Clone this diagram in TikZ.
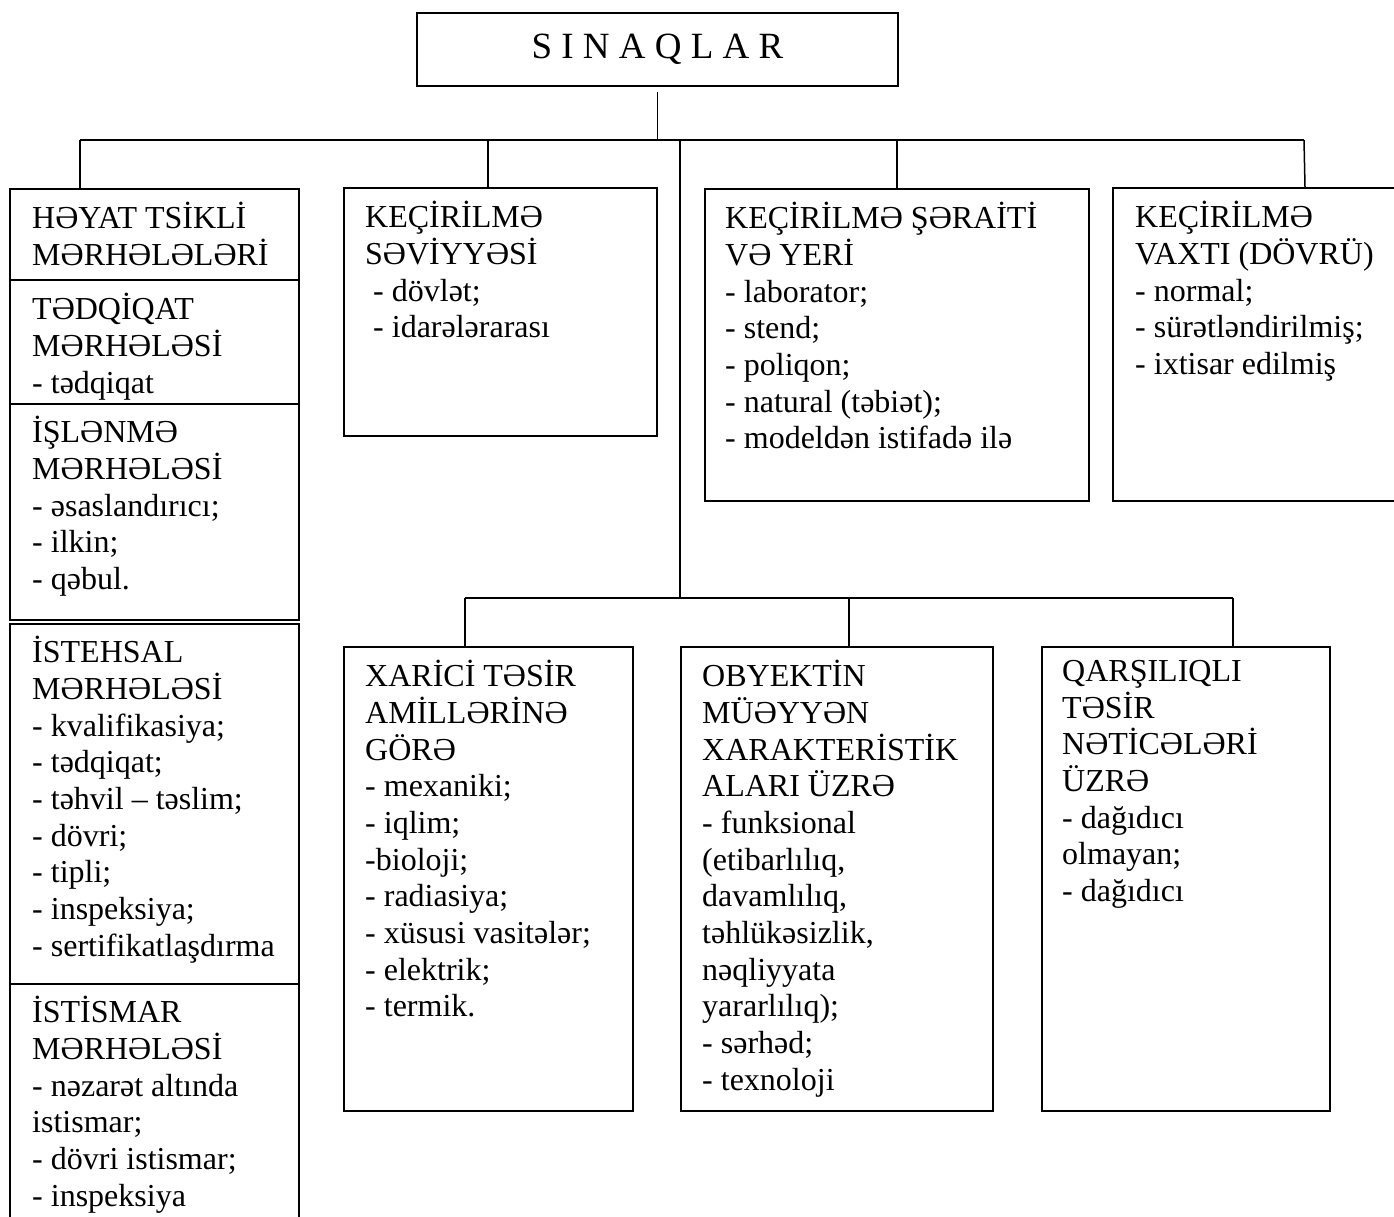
\documentclass[tikz,border=0pt]{standalone}
\usepackage{fontspec}
\setmainfont{Liberation Serif}
\begin{document}
\begin{tikzpicture}[x=1pt, y=-1pt,
        box/.style={rectangle, draw, line width=2pt, anchor=north west, inner sep=0pt},
        txt/.style={anchor=north west, align=left, inner sep=0pt,
            font=\fontsize{32}{36.7}\selectfont, execute at begin node=\strut},
        line/.style={line width=1.5pt}]

        \path[use as bounding box, clip] (0,0) rectangle (1394,1216);

        % Boxes (top)
        \node[box, anchor=center, minimum width=481, minimum height=73,
            font=\fontsize{37}{40}\selectfont] (top) at (657.5,49.5) {S I N A Q L A R};

        % Boxes (life cycle stages)
        \node[box, minimum width=289, minimum height=91] (ph0) at (9,188) {};
        \node[box, minimum width=289, minimum height=124] (ph1) at (9,279) {};
        \node[box, minimum width=289, minimum height=216] (ph2) at (9,403) {};
        \node[box, minimum width=289, minimum height=360] (ph3) at (9,623) {};
        \node[box, minimum width=289, minimum height=260] (ph4) at (9,983) {};

        % Boxes (first row)
        \node[box, minimum width=313, minimum height=248] (lvl) at (343,187) {};
        \node[box, minimum width=384, minimum height=312] (cond) at (704,188) {};
        \node[box, minimum width=384, minimum height=313] (time) at (1112,187) {};

        % Boxes (second row)
        \node[box, minimum width=289, minimum height=464] (ext) at (343,646) {};
        \node[box, minimum width=312, minimum height=464] (obj) at (680,646) {};
        \node[box, minimum width=288, minimum height=464] (mut) at (1041,646) {};

        % Texts
        \node[txt] (ph0t) at ([shift={(23,14)}]ph0.north west) {HƏYAT TSİKLİ\\MƏRHƏLƏLƏRİ};
        \node[txt] (ph1t) at ([shift={(23,14)}]ph1.north west) {TƏDQİQAT\\MƏRHƏLƏSİ\\- tədqiqat};
        \node[txt] (ph2t) at ([shift={(23,13)}]ph2.north west) {İŞLƏNMƏ\\MƏRHƏLƏSİ\\- əsaslandırıcı;\\- ilkin;\\- qəbul.};
        \node[txt] (ph3t) at ([shift={(23,13)}]ph3.north west) {İSTEHSAL\\MƏRHƏLƏSİ\\- kvalifikasiya;\\- tədqiqat;\\- təhvil – təslim;\\- dövri;\\- tipli;\\- inspeksiya;\\- sertifikatlaşdırma};
        \node[txt] (ph4t) at ([shift={(23,13)}]ph4.north west) {İSTİSMAR\\MƏRHƏLƏSİ\\- nəzarət altında\\istismar;\\- dövri istismar;\\- inspeksiya};
        \node[txt] (lvlt) at ([shift={(22,14)}]lvl.north west) {KEÇİRİLMƏ\\SƏVİYYƏSİ\\\hspace{8pt}- dövlət;\\\hspace{8pt}- idarələrarası};
        \node[txt] (condt) at ([shift={(21,14)}]cond.north west) {KEÇİRİLMƏ ŞƏRAİTİ\\VƏ YERİ\\- laborator;\\- stend;\\- poliqon;\\- natural (təbiət);\\- modeldən istifadə ilə};
        \node[txt] (timet) at ([shift={(23,14)}]time.north west) {KEÇİRİLMƏ\\VAXTI (DÖVRÜ)\\- normal;\\- sürətləndirilmiş;\\- ixtisar edilmiş};
        \node[txt] (extt) at ([shift={(22,14)}]ext.north west) {XARİCİ TƏSİR\\AMİLLƏRİNƏ\\GÖRƏ\\- mexaniki;\\- iqlim;\\-bioloji;\\- radiasiya;\\- xüsusi vasitələr;\\- elektrik;\\- termik.};
        \node[txt] (objt) at ([shift={(22,14)}]obj.north west) {OBYEKTİN\\MÜƏYYƏN\\XARAKTERİSTİK\\ALARI ÜZRƏ\\- funksional\\(etibarlılıq,\\davamlılıq,\\təhlükəsizlik,\\nəqliyyata\\yararlılıq);\\- sərhəd;\\- texnoloji};
        \node[txt] (mutt) at ([shift={(21,14)}]mut.north west) {QARŞILIQLI\\TƏSİR\\NƏTİCƏLƏRİ\\ÜZRƏ\\- dağıdıcı\\olmayan;\\- dağıdıcı};

        % Bus points
        \coordinate (hub) at (657.5,140);
        \coordinate (busW) at (80,140);
        \coordinate (busE) at (1304,140);
        \coordinate (dLvl) at (488,140);
        \coordinate (trunk) at (680,140);
        \coordinate (bbW) at (465,598);
        \coordinate (dObj) at (849,598);
        \coordinate (bbE) at (1233,598);

        % Lines (upper level)
        \draw[line, shorten <=5pt] (top.south) -- (hub);
        \draw[line] (busW) -- (busE);
        \draw[line] (busW) -- (busW |- ph0.north);
        \draw[line] (dLvl) -- (dLvl |- lvl.north);
        \draw[line] (busE -| cond.north) -- (cond.north);
        \draw[line] (busE) -- (time.north);

        % Lines (lower level)
        \draw[line] (trunk) -- (trunk |- bbW);
        \draw[line] (bbW) -- (bbE);
        \draw[line] (bbW) -- (bbW |- ext.north);
        \draw[line] (dObj) -- (dObj |- obj.north);
        \draw[line] (bbE) -- (bbE |- mut.north);
    \end{tikzpicture}
\end{document}
